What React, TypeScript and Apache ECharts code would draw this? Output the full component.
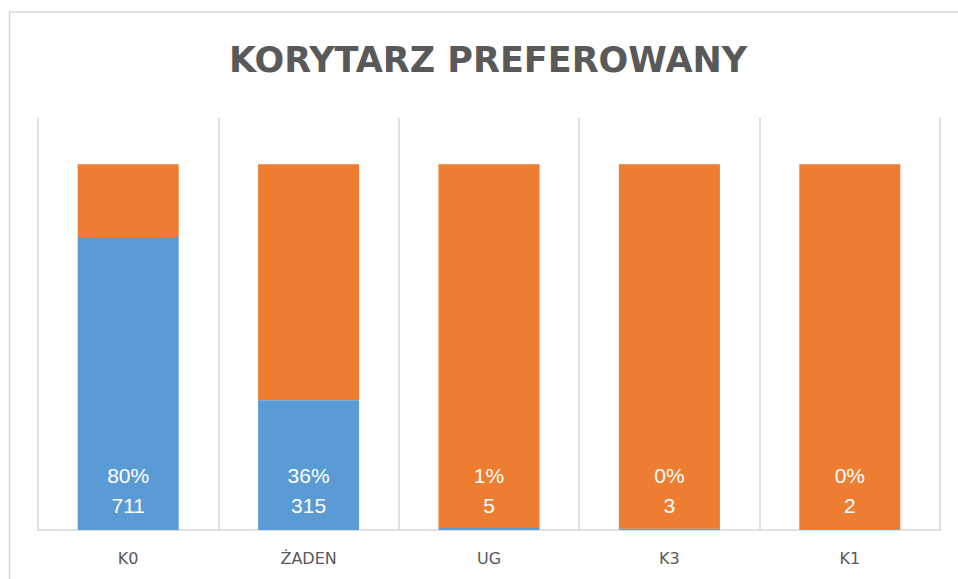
import React, { useEffect, useRef } from "react";
import * as echarts from "echarts";

const categories = ["K0", "ŻADEN", "UG", "K3", "K1"];
const preferred = [711, 315, 5, 3, 2];
const shareLabels = ["80%", "36%", "1%", "0%", "0%"];
const remainder = [177, 573, 883, 885, 886];
const titleText = "KORYTARZ PREFEROWANY";

export default function App() {
  const ref = useRef<HTMLDivElement>(null);
  useEffect(() => {
    if (!ref.current) return;
    const chart = echarts.init(ref.current, null, { renderer: "svg" });
    chart.setOption({
      animation: false,
      backgroundColor: "#ffffff",
      graphic: [
        {
          type: "rect",
          silent: true,
          shape: { x: 9.5, y: 12, width: 1000, height: 700 },
          style: { fill: "none", stroke: "#d9d9d9", lineWidth: 1.5 },
        },
        {
          type: "text",
          x: 488,
          y: 60,
          style: {
            text: titleText,
            fill: "#595959",
            font: "bold 35px 'DejaVu Sans', sans-serif",
            textAlign: "center",
            textVerticalAlign: "middle",
          },
        },
      ],
      grid: { left: 38, right: 18, top: 118, bottom: 49, containLabel: false },
      xAxis: {
        type: "category",
        data: categories,
        axisLine: { show: true, lineStyle: { color: "#d9d9d9", width: 1.5 } },
        axisTick: { show: false },
        splitLine: { show: true, lineStyle: { color: "#d9d9d9", width: 1.5 } },
        axisLabel: {
          color: "#595959",
          fontSize: 16,
          fontFamily: "'DejaVu Sans', sans-serif",
          margin: 20,
        },
      },
      yAxis: {
        type: "value",
        min: 0,
        max: 1000,
        show: false,
        splitLine: { show: false },
      },
      series: [
        {
          name: "preferowany",
          type: "bar",
          stack: "total",
          barWidth: 101,
          z: 3,
          data: preferred,
          itemStyle: { color: "#5B9BD5" },
          label: {
            show: true,
            position: "insideBottom",
            distance: 10,
            color: "#ffffff",
            fontSize: 21,
            lineHeight: 30,
            fontFamily: "'Liberation Sans', Arial, sans-serif",
            formatter: (p: any) => `${shareLabels[p.dataIndex]}\n${preferred[p.dataIndex]}`,
          },
        },
        {
          name: "pozostali",
          type: "bar",
          stack: "total",
          barWidth: 101,
          z: 2,
          data: remainder,
          itemStyle: { color: "#ED7D31" },
        },
      ],
    });
    return () => chart.dispose();
  }, []);
  return (
    <div
      ref={ref}
      style={{ position: "fixed", left: 0, top: 0, width: 958, height: 579 }}
    />
  );
}
